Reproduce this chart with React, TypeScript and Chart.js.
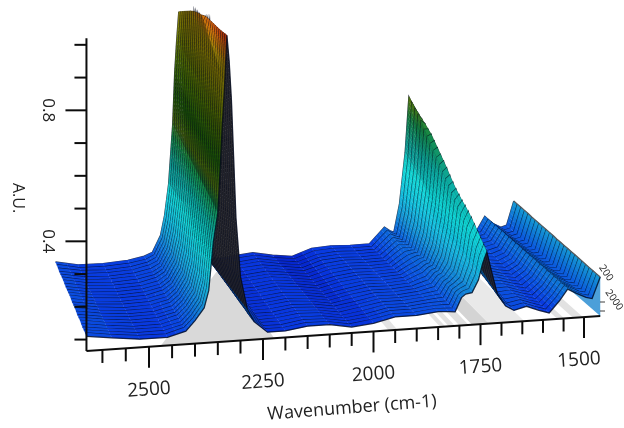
import React, { useEffect, useRef } from "react";
import { Chart, registerables } from "chart.js";

Chart.register(...registerables);

const waves = [2634,2580,2520,2460,2420,2400,2380,2370,2360,2350,2345,2340,2335,2330,2325,2320,2315,2310,2300,2285,2270,2240,2200,2150,2100,2050,2000,1950,1900,1850,1825,1810,1795,1785,1770,1755,1745,1735,1725,1710,1690,1670,1640,1610,1585,1560,1540,1520,1495,1480,1460];

// Absorbance in milli-A.U., one row per spectrum, from the back row to the front row.
const absorbance = [
[108,94,92,96,105,115,165,225,320,500,660,760,843,760,680,500,360,300,170,120,100,80,85,90,78,70,90,93,90,90,120,138,125,120,205,360,530,505,420,280,200,140,115,110,110,110,147,125,110,115,187],
[109,94,92,96,104,116,165,225,322,498,657,759,853,775,690,512,371,306,174,122,101,80,86,91,79,71,91,94,91,91,120,137,126,122,203,353,521,500,412,275,196,138,115,109,109,110,147,126,111,115,187],
[108,95,91,95,105,117,166,226,324,497,654,757,863,791,700,525,382,312,177,123,102,80,84,90,79,71,89,94,91,92,119,135,127,123,201,347,512,495,404,269,193,137,115,109,108,111,148,126,111,115,187],
[107,95,92,95,106,117,166,224,326,495,651,756,873,806,710,537,392,317,181,125,102,81,85,91,80,72,90,95,92,93,119,134,128,125,200,340,503,490,396,264,189,135,114,108,107,111,148,127,112,116,187],
[108,95,91,95,105,118,166,225,328,493,648,755,883,822,720,550,403,323,185,127,103,81,86,90,81,72,91,95,92,94,118,133,129,127,198,333,494,485,388,259,186,133,114,108,106,112,148,127,112,116,187],
[109,95,92,95,104,119,167,225,330,492,645,754,893,837,730,562,414,329,189,128,104,81,85,91,81,73,90,96,93,94,118,132,130,128,196,326,478,478,380,254,182,132,114,107,105,112,149,128,113,116,186],
[110,96,91,95,105,120,167,226,332,490,642,752,903,852,740,575,425,335,192,130,105,81,84,90,82,73,90,96,94,95,118,130,131,130,194,320,466,472,372,248,179,130,114,106,104,112,149,129,114,116,186],
[109,96,92,94,106,121,167,225,334,488,640,751,912,868,750,587,436,341,196,132,106,81,85,91,83,74,91,97,94,96,117,129,132,132,193,313,454,461,365,243,175,128,114,106,103,113,149,129,114,116,186],
[108,96,91,94,105,122,167,224,336,487,637,750,920,883,760,600,446,347,200,133,107,82,86,92,83,74,90,97,95,97,117,128,133,134,191,306,442,450,357,238,172,127,113,105,102,113,149,130,115,116,186],
[109,96,91,94,104,122,168,225,338,485,634,749,928,899,770,612,457,352,204,135,107,82,85,91,84,75,89,97,95,98,116,127,134,135,189,300,430,439,349,233,168,125,113,105,101,114,150,131,116,117,186],
[110,97,90,94,105,123,168,226,340,483,631,747,935,914,780,625,468,358,207,137,108,82,84,92,85,75,90,98,96,99,116,125,135,137,187,293,418,428,341,227,165,123,113,104,100,114,150,131,116,117,186],
[111,97,91,93,106,124,168,225,342,482,628,746,941,930,790,637,479,364,211,138,109,82,85,92,86,76,91,98,97,100,116,124,136,139,186,286,406,417,333,222,161,122,113,103,99,114,150,132,117,117,186],
[110,97,90,93,105,125,169,224,345,480,625,745,947,945,800,650,490,370,215,140,110,82,86,93,86,76,90,99,97,101,115,123,137,140,184,280,394,404,325,217,158,120,112,103,98,115,150,132,117,117,185],
[109,97,91,93,104,126,169,225,347,478,622,744,939,952,810,662,500,376,219,142,111,83,85,92,87,77,89,99,98,102,115,122,138,142,182,273,382,392,317,212,154,118,112,102,97,115,151,133,118,118,185],
[110,98,90,93,105,127,169,226,349,477,619,742,931,957,820,675,511,382,222,143,112,83,84,93,88,77,90,100,99,103,114,120,139,143,180,266,370,381,309,206,151,117,112,102,96,116,151,134,119,118,185],
[111,98,91,92,106,127,170,225,351,475,616,741,923,961,830,687,522,387,226,145,112,83,85,93,88,78,91,100,99,104,114,119,140,145,179,260,358,373,301,201,147,115,112,101,95,116,151,134,119,118,185],
[110,98,90,92,105,128,170,224,353,473,613,740,915,965,840,700,533,393,230,147,113,83,86,94,89,78,90,101,100,105,113,118,141,147,177,253,346,364,293,196,144,113,111,101,94,116,152,135,120,118,185],
[109,98,91,92,104,129,170,225,355,472,610,739,907,969,850,712,544,399,234,148,114,84,85,93,90,79,89,101,100,106,113,117,142,149,175,246,335,358,286,191,140,112,111,100,93,117,152,135,120,119,185],
[110,99,90,92,105,130,170,226,357,470,607,737,899,973,860,725,555,405,237,150,115,84,84,94,90,79,90,102,101,107,112,115,143,150,173,240,324,350,278,185,137,110,111,99,92,117,152,136,121,119,185],
[111,99,91,91,106,131,171,225,359,468,604,736,891,977,870,737,565,411,241,152,116,84,85,94,91,80,91,102,102,108,112,114,144,152,172,233,313,341,270,180,133,108,111,99,91,118,152,137,122,119,185],
[110,99,90,91,105,132,171,224,361,467,601,735,883,981,880,750,576,417,245,153,117,84,86,95,92,80,90,103,102,109,112,113,146,154,170,226,302,330,262,175,130,107,110,98,89,118,153,137,122,119,184],
[109,99,91,91,104,132,171,225,363,465,598,734,875,985,890,762,587,422,249,155,117,85,85,94,92,81,89,103,103,110,111,112,147,155,168,220,290,319,254,170,126,105,110,97,88,119,153,138,123,120,184],
[110,100,90,91,105,133,172,226,365,463,596,732,867,990,900,775,598,428,252,157,118,85,84,95,93,82,90,104,104,110,111,110,148,157,166,213,278,308,246,164,123,103,110,97,87,119,153,139,124,120,184],
[111,100,91,90,106,134,172,225,368,462,593,731,858,995,910,787,609,434,256,158,119,85,85,95,94,82,91,104,104,111,110,109,149,159,165,206,264,296,238,159,119,102,110,96,86,120,154,139,124,120,184],
[110,100,90,90,105,135,172,224,370,460,590,730,850,1000,920,800,620,440,260,160,120,85,85,95,95,83,90,105,105,112,110,108,150,160,163,200,250,285,230,154,115,100,110,95,85,120,154,140,125,120,184],
];

const xMinorTicks = [2600,2550,2450,2400,2350,2300,2200,2150,2100,2050,1950,1900,1850,1800,1700,1650,1600,1550];
const xMajorTicks = [2500,2250,2000,1750,1500];
const yMinorTicks = [0.1,0.2,0.3,0.5,0.6,0.7,0.9,1.0];
const yMajorTicks = [0.4,0.8];
const shadowFrom = [2475,1965,1845,1825,1800,1770,1730,1565,1527];
const shadowTo = [2225,1945,1833,1810,1778,1730,1645,1548,1502];
const shadowDepth = [0,1,1,1,1,1,1,1,1];
const shadowTone = ["#d9d9d9","#e4e4e4","#e2e2e2","#e2e2e2","#e0e0e0","#d4d4d4","#e9e9e9","#e2e2e2","#e2e2e2"];
const depthLabels = ["200","2000"];

const colorA = [0.07,0.09,0.11,0.14,0.18,0.24,0.31,0.39,0.47,0.52,0.6,0.7,0.82,0.9,0.95,1.0];
const colorRGB = [[4,32,200],[8,56,224],[10,80,224],[12,108,216],[20,148,212],[18,190,220],[16,214,214],[12,170,160],[20,136,70],[90,132,16],[36,112,10],[80,122,6],[148,144,6],[176,148,8],[214,112,14],[245,60,14]];

const FLOOR_A = 0.065;
const PX_PER_AU = 327.5;
const DEPTH_Y = 75;
const FONT = '"Open Sans", sans-serif';

function frontX(w: number) {
  const u = (2500 - w) / 250;
  return 149 + 115.75 * u - 1.75 * u * u;
}
function project(w: number, t: number, a: number) {
  const fx = frontX(w);
  return {
    x: fx - t * (31 + (fx - 87) * 0.108),
    y: 351 - 0.0682 * (fx - 87) - t * DEPTH_Y - (a - FLOOR_A) * PX_PER_AU,
  };
}
function tone(a: number, shade = 1) {
  let i = 0;
  while (i < colorA.length - 2 && a > colorA[i + 1]) i++;
  const f = Math.max(0, Math.min(1, (a - colorA[i]) / (colorA[i + 1] - colorA[i])));
  const c = colorRGB[i].map((v, j) => Math.round((v + (colorRGB[i + 1][j] - v) * f) * shade));
  return `rgb(${c[0]},${c[1]},${c[2]})`;
}

const lastRow = absorbance.length - 1;
const rowDepth = (k: number) => 1 - k / lastRow;

const surfacePlugin = {
  id: "surface",
  beforeDatasetsDraw(chart: any) {
    const ctx = chart.ctx;
    ctx.save();
    shadowFrom.forEach((w0, i) => {
      const w1 = shadowTo[i];
      const pts = [project(w0, 0, FLOOR_A), project(w1, 0, FLOOR_A), project(w1, 1, FLOOR_A), project(w0, shadowDepth[i], FLOOR_A)];
      ctx.beginPath();
      pts.forEach((p, j) => (j ? ctx.lineTo(p.x, p.y) : ctx.moveTo(p.x, p.y)));
      ctx.closePath();
      ctx.fillStyle = shadowTone[i];
      ctx.fill();
    });
    const e = waves.length - 1;
    const wall = [project(waves[e], 1, FLOOR_A), project(waves[e], 0, FLOOR_A), project(waves[e], 0, 0.184), project(waves[e], 1, 0.187)];
    ctx.beginPath();
    wall.forEach((p, j) => (j ? ctx.lineTo(p.x, p.y) : ctx.moveTo(p.x, p.y)));
    ctx.closePath();
    ctx.fillStyle = "#4c9fd9";
    ctx.fill();
    ctx.restore();
  },
  beforeDatasetDraw(chart: any, args: any) {
    const k = lastRow - args.index;
    if (k === 0) return;
    const ctx = chart.ctx;
    const back = chart.getDatasetMeta(args.index + 1).data;
    const front = args.meta.data;
    const aB = absorbance[k - 1];
    const aF = absorbance[k];
    ctx.save();
    ctx.lineWidth = 0.3;
    for (let i = waves.length - 2; i >= 0; i--) {
      const a0 = (aB[i] + aF[i]) / 2000;
      const a1 = (aB[i + 1] + aF[i + 1]) / 2000;
      const ux = (back[i + 1].x + front[i + 1].x - back[i].x - front[i].x) / 2;
      const uy = (back[i + 1].y + front[i + 1].y - back[i].y - front[i].y) / 2;
      const vx = (front[i].x + front[i + 1].x - back[i].x - back[i + 1].x) / 2;
      const vy = (front[i].y + front[i + 1].y - back[i].y - back[i + 1].y) / 2;
      const slope = Math.abs(uy) / Math.abs(ux);
      const under = ux * vy - uy * vx < 0 && slope > 2;
      const shade = 1 - 0.32 * Math.max(0, Math.min(1, (slope - 10) / 10));
      const n = Math.max(1, Math.ceil(Math.abs(a1 - a0) / 0.012));
      for (let s = 0; s < n; s++) {
        const f0 = s / n;
        const f1 = (s + 1) / n;
        const lerp = (p: any, q: any, f: number) => ({ x: p.x + (q.x - p.x) * f, y: p.y + (q.y - p.y) * f });
        const A = lerp(back[i], back[i + 1], f0);
        const B = lerp(back[i], back[i + 1], f1);
        const C = lerp(front[i], front[i + 1], f1);
        const D = lerp(front[i], front[i + 1], f0);
        const col = under ? "#26262b" : tone(a0 + (a1 - a0) * (f0 + f1) / 2, shade);
        ctx.beginPath();
        ctx.moveTo(A.x, A.y);
        ctx.lineTo(B.x, B.y);
        ctx.lineTo(C.x, C.y);
        ctx.lineTo(D.x, D.y);
        ctx.closePath();
        ctx.fillStyle = col;
        ctx.strokeStyle = col;
        ctx.fill();
        ctx.stroke();
      }
    }
    ctx.restore();
  },
  afterDatasetsDraw(chart: any) {
    const ctx = chart.ctx;
    ctx.save();
    // Right-hand edge of the surface
    const e = waves.length - 1;
    ctx.beginPath();
    absorbance.forEach((row, k) => {
      const p = project(waves[e], rowDepth(k), row[e] / 1000);
      if (k) ctx.lineTo(p.x, p.y);
      else ctx.moveTo(p.x, p.y);
    });
    ctx.strokeStyle = "#5b5b5b";
    ctx.lineWidth = 1.2;
    ctx.stroke();

    ctx.strokeStyle = "#0c0c0c";
    ctx.fillStyle = "#222";
    ctx.lineWidth = 2;
    const line = (x0: number, y0: number, x1: number, y1: number) => {
      ctx.beginPath();
      ctx.moveTo(x0, y0);
      ctx.lineTo(x1, y1);
      ctx.stroke();
    };
    // Wavenumber axis
    const a = project(2634, 0, FLOOR_A);
    const b = project(1460, 0, FLOOR_A);
    line(a.x, a.y, b.x, b.y);
    xMinorTicks.forEach((w) => {
      const p = project(w, 0, FLOOR_A);
      line(p.x, p.y, p.x, p.y + 13);
    });
    const text = (s: string, x: number, y: number, rot: number, size: number) => {
      ctx.save();
      ctx.translate(x, y);
      ctx.rotate((rot * Math.PI) / 180);
      ctx.font = `${size}px ${FONT}`;
      ctx.textAlign = "center";
      ctx.textBaseline = "middle";
      ctx.fillText(s, 0, 0);
      ctx.restore();
    };
    xMajorTicks.forEach((w) => {
      const p = project(w, 0, FLOOR_A);
      line(p.x, p.y, p.x, p.y + 21);
      text(String(w), p.x - (w === 1500 ? 5 : 0), p.y + 43, -4, 19);
    });
    // Absorbance axis
    const top = project(2634, 0, 1.02);
    line(a.x, a.y, top.x, top.y);
    yMinorTicks.forEach((v) => {
      const p = project(2634, 0, v);
      line(p.x - 12, p.y, p.x, p.y);
    });
    yMajorTicks.forEach((v) => {
      const p = project(2634, 0, v);
      line(p.x - 21, p.y, p.x, p.y);
      text(v.toFixed(1), 48, p.y, 90, 17);
    });
    text("A.U.", 18, 198, 90, 16);
    text("Wavenumber (cm-1)", 352, 408, -4.5, 18);
    // Depth axis, cut off by the picture's right edge
    text(depthLabels[0], 606, 273, 55, 10);
    text(depthLabels[1], 614, 300, 55, 10);
    ctx.lineWidth = 0.8;
    line(600, 302, 605, 302);
    line(600, 311, 605, 311);
    ctx.restore();
  },
};

export default function App() {
  const ref = useRef<HTMLCanvasElement>(null);
  useEffect(() => {
    const datasets = absorbance
      .map((row, k) => ({
        label: `row ${k + 1}`,
        data: row.map((v, i) => project(waves[i], rowDepth(k), v / 1000)),
        showLine: true,
        pointRadius: 0,
        borderColor: "rgba(0,6,26,0.78)",
        borderWidth: 1.3,
        tension: 0,
        clip: false as any,
      }))
      .reverse();
    const chart = new Chart(ref.current as HTMLCanvasElement, {
      type: "scatter",
      data: { datasets },
      options: {
        animation: false,
        responsive: false,
        layout: { padding: 0 },
        plugins: { legend: { display: false }, tooltip: { enabled: false } },
        scales: {
          x: { type: "linear", min: 0, max: 624, display: false },
          y: { type: "linear", min: 0, max: 428, reverse: true, display: false },
        },
      },
      plugins: [surfacePlugin as any],
    });
    return () => chart.destroy();
  }, []);
  return (
    <div style={{ position: "fixed", left: 0, top: 0, width: 624, height: 428, background: "#fff" }}>
      <canvas ref={ref} width={624} height={428} style={{ display: "block", filter: "blur(0.35px)" }} />
    </div>
  );
}
